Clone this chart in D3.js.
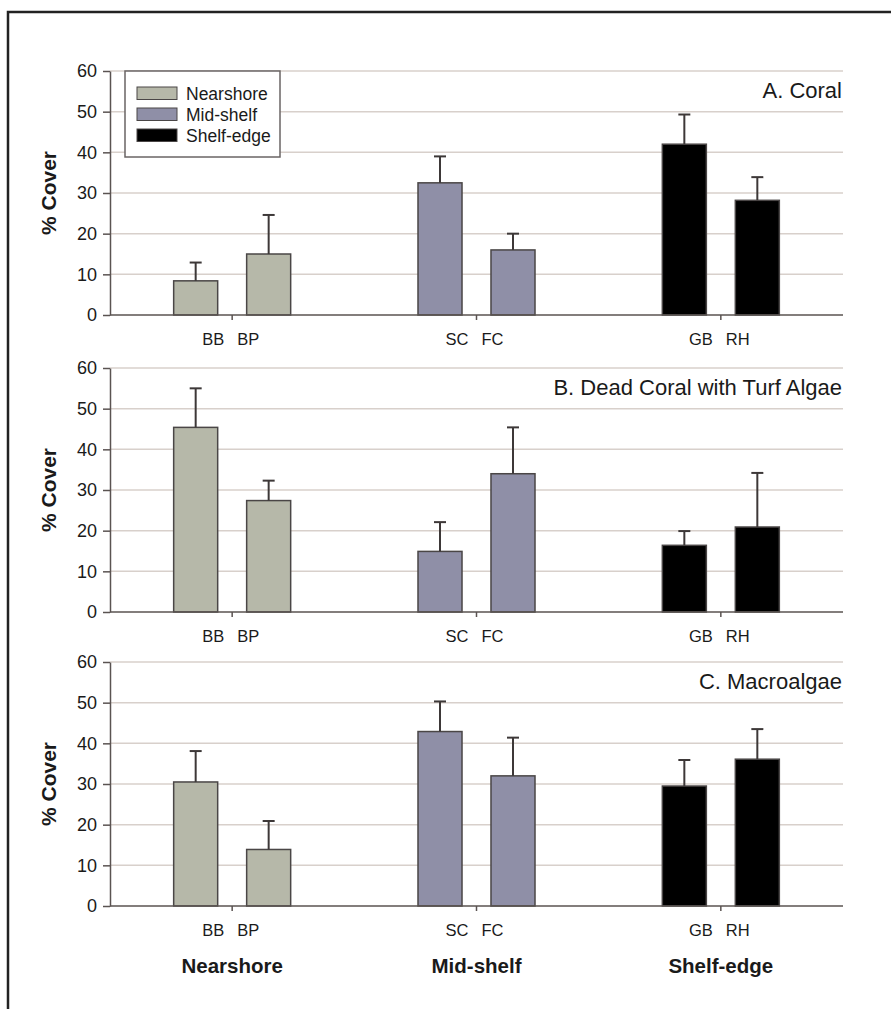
<!DOCTYPE html>
<html>
<head>
<meta charset="utf-8">
<script src="https://cdn.jsdelivr.net/npm/d3@7"></script>
<style>
  body { margin: 0; background: #fff; }
  text { font-family: "Liberation Sans", Arial, sans-serif; fill: #1a1a1a; }
</style>
</head>
<body>
<div id="chart"></div>
<script>
// data
const zones = ["Nearshore", "Mid-shelf", "Shelf-edge"];
const sites = ["BB", "BP", "SC", "FC", "GB", "RH"];
const siteZone = ["Nearshore", "Nearshore", "Mid-shelf", "Mid-shelf", "Shelf-edge", "Shelf-edge"];
const panelTitles = ["A. Coral", "B. Dead Coral with Turf Algae", "C. Macroalgae"];
const yTicks = [0, 10, 20, 30, 40, 50, 60];

const coralMean = [8.4, 15.0, 32.5, 16.0, 42.0, 28.2];
const coralErr  = [4.5, 9.6, 6.5, 4.0, 7.3, 5.7];
const turfMean  = [45.4, 27.4, 14.9, 34.0, 16.4, 20.9];
const turfErr   = [9.6, 4.9, 7.2, 11.4, 3.5, 13.3];
const macroMean = [30.5, 13.9, 42.9, 32.0, 29.5, 36.1];
const macroErr  = [7.6, 7.0, 7.4, 9.4, 6.4, 7.4];

const panels = [
  { title: panelTitles[0], mean: coralMean, err: coralErr },
  { title: panelTitles[1], mean: turfMean, err: turfErr },
  { title: panelTitles[2], mean: macroMean, err: macroErr }
];

const width = 891, height = 1009;
const left = 110, right = 843;
const panelTop = [71, 368, 662];
const panelH = 244;

const color = d3.scaleOrdinal()
  .domain(zones)
  .range(["#b6b8a9", "#8f8fa7", "#000000"]);

const svg = d3.select("#chart").append("svg")
  .attr("width", width)
  .attr("height", height);

// frame (left + top only)
svg.append("path")
  .attr("d", `M8,${height} L8,12 L${width},12`)
  .attr("fill", "none")
  .attr("stroke", "#222")
  .attr("stroke-width", 2.5);

// zone bands and site offsets within a zone
const xZone = d3.scaleBand().domain(zones).range([left, right]);
const xSite = d3.scaleBand().domain([0, 1]).range([-58.5, 58.5]).paddingInner(0.397);

const siteX = i => xZone(siteZone[i]) + xZone.bandwidth() / 2 + xSite(i % 2);

panels.forEach((p, pi) => {
  const top = panelTop[pi];
  const y = d3.scaleLinear().domain([0, 60]).range([top + panelH, top]);
  const g = svg.append("g");

  // gridlines
  g.append("g")
    .selectAll("line")
    .data(yTicks.filter(d => d > 0))
    .join("line")
    .attr("x1", left).attr("x2", right)
    .attr("y1", d => y(d)).attr("y2", d => y(d))
    .attr("stroke", "#d8d0cb")
    .attr("stroke-width", 1.5);

  // y axis
  const yAxis = g.append("g")
    .attr("transform", `translate(${left},0)`)
    .call(d3.axisLeft(y).tickValues(yTicks).tickSize(7).tickSizeOuter(0).tickPadding(6));
  yAxis.select(".domain").attr("stroke", "#5a5351").attr("stroke-width", 1.5);
  yAxis.selectAll(".tick line").attr("stroke", "#5a5351").attr("stroke-width", 1.5);
  yAxis.selectAll(".tick text")
    .attr("font-size", 18)
    .attr("font-family", "Liberation Sans, Arial, sans-serif")
    .attr("fill", "#222");

  // bars
  g.append("g")
    .selectAll("rect")
    .data(p.mean)
    .join("rect")
    .attr("x", (d, i) => siteX(i))
    .attr("y", d => y(d))
    .attr("width", xSite.bandwidth())
    .attr("height", d => y(0) - y(d))
    .attr("fill", (d, i) => color(siteZone[i]))
    .attr("stroke", "#4a4646")
    .attr("stroke-width", 1.5);

  // error bars (upper only)
  const eb = g.append("g")
    .selectAll("g")
    .data(p.mean)
    .join("g")
    .attr("stroke", "#3d3838")
    .attr("stroke-width", 2);
  eb.append("line")
    .attr("x1", (d, i) => siteX(i) + xSite.bandwidth() / 2)
    .attr("x2", (d, i) => siteX(i) + xSite.bandwidth() / 2)
    .attr("y1", d => y(d))
    .attr("y2", (d, i) => y(d + p.err[i]));
  eb.append("line")
    .attr("x1", (d, i) => siteX(i) + xSite.bandwidth() / 2 - 6)
    .attr("x2", (d, i) => siteX(i) + xSite.bandwidth() / 2 + 6)
    .attr("y1", (d, i) => y(d + p.err[i]))
    .attr("y2", (d, i) => y(d + p.err[i]));

  // x axis baseline
  g.append("line")
    .attr("x1", left).attr("x2", right)
    .attr("y1", y(0)).attr("y2", y(0))
    .attr("stroke", "#5a5351")
    .attr("stroke-width", 1.5);

  // centre ticks under each zone
  g.append("g")
    .selectAll("line")
    .data(zones)
    .join("line")
    .attr("x1", d => xZone(d) + xZone.bandwidth() / 2)
    .attr("x2", d => xZone(d) + xZone.bandwidth() / 2)
    .attr("y1", y(0)).attr("y2", y(0) + 5)
    .attr("stroke", "#5a5351")
    .attr("stroke-width", 1.5);

  // site labels
  g.append("g")
    .selectAll("text")
    .data(sites)
    .join("text")
    .attr("x", (d, i) => xZone(siteZone[i]) + xZone.bandwidth() / 2 + (i % 2 ? 5 : -8))
    .attr("y", y(0) + 30)
    .attr("text-anchor", (d, i) => i % 2 ? "start" : "end")
    .attr("font-size", 16.5)
    .text(d => d);

  // panel title
  g.append("text")
    .attr("x", right - 1)
    .attr("y", top + 27)
    .attr("text-anchor", "end")
    .attr("font-size", 22)
    .text(p.title);

  // y label
  g.append("text")
    .attr("transform", `translate(56,${top + panelH / 2}) rotate(-90)`)
    .attr("text-anchor", "middle")
    .attr("font-size", 21)
    .attr("font-weight", "bold")
    .text("% Cover");
});

// legend in panel A
const legend = svg.append("g").attr("transform", "translate(125,71)");
legend.append("rect")
  .attr("width", 155).attr("height", 86)
  .attr("fill", "#fff")
  .attr("stroke", "#6a6464")
  .attr("stroke-width", 1.5);
const li = legend.selectAll("g.item")
  .data(zones)
  .join("g")
  .attr("class", "item")
  .attr("transform", (d, i) => `translate(12,${16 + i * 21})`);
li.append("rect")
  .attr("width", 40).attr("height", 12.5)
  .attr("fill", d => color(d))
  .attr("stroke", "#4a4646")
  .attr("stroke-width", 1);
li.append("text")
  .attr("x", 49).attr("y", 13)
  .attr("font-size", 17.5)
  .text(d => d);

// zone names along the bottom
svg.append("g")
  .selectAll("text")
  .data(zones)
  .join("text")
  .attr("x", d => xZone(d) + xZone.bandwidth() / 2)
  .attr("y", 973)
  .attr("text-anchor", "middle")
  .attr("font-size", 20.5)
  .attr("font-weight", "bold")
  .text(d => d);
</script>
</body>
</html>
